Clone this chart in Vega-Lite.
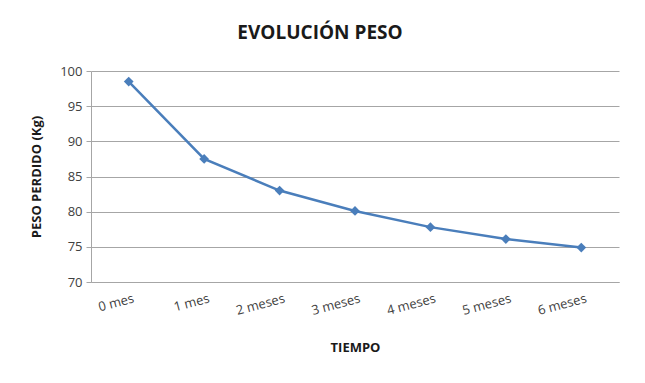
{
  "$schema": "https://vega.github.io/schema/vega-lite/v6.json",
  "autosize": {"type": "none"},
  "padding": {"left": 91, "top": 71, "right": 26, "bottom": 101},
  "width": 528,
  "height": 211,
  "background": "white",
  "title": {
    "text": "EVOLUCIÓN PESO",
    "font": "Open Sans",
    "fontSize": 19,
    "fontWeight": "bold",
    "color": "#1a1a1a",
    "anchor": "middle",
    "dx": -35,
    "offset": 22
  },
  "data": {
    "values": [
      {"tiempo": "0 mes", "peso": 98.5},
      {"tiempo": "1 mes", "peso": 87.5},
      {"tiempo": "2 meses", "peso": 83.0},
      {"tiempo": "3 meses", "peso": 80.1},
      {"tiempo": "4 meses", "peso": 77.8},
      {"tiempo": "5 meses", "peso": 76.1},
      {"tiempo": "6 meses", "peso": 74.9}
    ]
  },
  "encoding": {
    "x": {
      "field": "tiempo",
      "type": "ordinal",
      "sort": null,
      "scale": {"paddingInner": 0, "paddingOuter": 0},
      "axis": {
        "title": "TIEMPO",
        "titleFont": "Open Sans",
        "titleFontSize": 13,
        "titleFontWeight": "bold",
        "titleColor": "#1a1a1a",
        "titlePadding": 24,
        "labelFont": "Open Sans",
        "labelFontSize": 13,
        "labelColor": "#404040",
        "labelAngle": -15,
        "labelAlign": "right",
        "labelBaseline": "top",
        "labelPadding": 10,
        "labelOffset": 3,
        "ticks": false,
        "domain": true,
        "domainColor": "#a6a6a6",
        "grid": false
      }
    },
    "y": {
      "field": "peso",
      "type": "quantitative",
      "scale": {"domain": [70, 100], "nice": false, "zero": false},
      "axis": {
        "title": "PESO PERDIDO (Kg)",
        "titleFont": "Open Sans",
        "titleFontSize": 13,
        "titleFontWeight": "bold",
        "titleColor": "#1a1a1a",
        "titlePadding": 16,
        "values": [70, 75, 80, 85, 90, 95, 100],
        "labelFont": "Open Sans",
        "labelFontSize": 13,
        "labelColor": "#404040",
        "labelPadding": 4,
        "ticks": true,
        "tickSize": 5,
        "tickColor": "#a6a6a6",
        "domain": true,
        "domainColor": "#a6a6a6",
        "grid": true,
        "gridColor": "#a6a6a6"
      }
    }
  },
  "layer": [
    {
      "mark": {"type": "line", "color": "#4a7ebb", "strokeWidth": 2.5}
    },
    {
      "mark": {"type": "point", "shape": "diamond", "filled": true, "color": "#4a7ebb", "size": 95, "opacity": 1}
    }
  ],
  "config": {"view": {"stroke": null}}
}
